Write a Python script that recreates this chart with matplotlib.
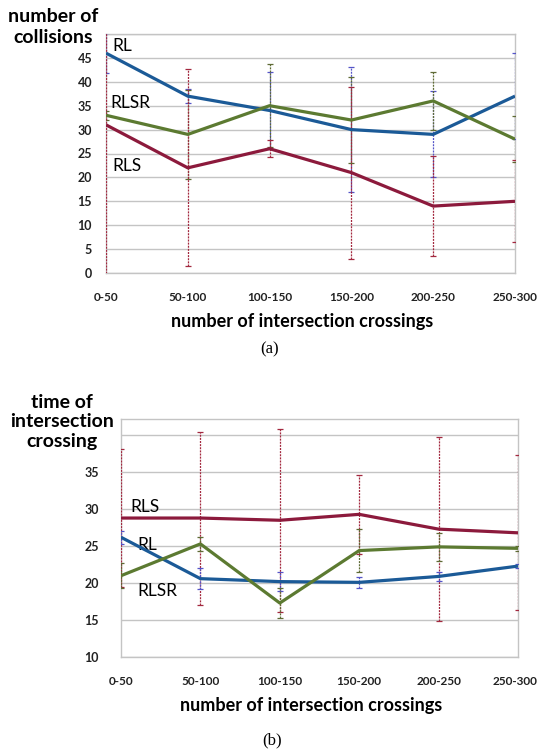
import matplotlib
matplotlib.use("Agg")
import matplotlib.pyplot as plt
import matplotlib.transforms as mtransforms
import numpy as np

# data
cats = ['0-50', '50-100', '100-150', '150-200', '200-250', '250-300']

coll_rl = [46, 37, 34, 30, 29, 37]
coll_rlsr = [33, 29, 35, 32, 36, 28]
coll_rls = [31, 22, 26, 21, 14, 15]
coll_rl_err = [4.2, 1.5, 8, 13, 9, 9]
coll_rlsr_err = [0.9, 9.3, 8.7, 9, 6, 4.8]
coll_rls_err = [35, 20.6, 1.8, 18, 10.5, 8.6]

time_rls = [28.8, 28.8, 28.5, 29.3, 27.3, 26.8]
time_rl = [26.2, 20.6, 20.2, 20.1, 20.9, 22.3]
time_rlsr = [21.0, 25.3, 17.3, 24.4, 24.9, 24.7]
time_rls_err = [9.3, 11.7, 12.4, 5.3, 12.4, 10.5]
time_rl_err = [0.9, 1.4, 1.3, 0.7, 0.6, 0.3]
time_rlsr_err = [1.7, 1.0, 2.0, 2.9, 1.9, 0.3]

blue = '#1b5a97'
red = '#8c1a3c'
green = '#5c7a31'
eblue = '#5555c8'
ered = '#a3283f'
egreen = '#5f6b35'

plt.rcParams['font.family'] = ['Lato', 'DejaVu Sans']

fig = plt.figure(figsize=(5.39, 7.51), dpi=100)


def panel(ax, series, ylim, yticks, ylabels):
    x = np.arange(len(cats))
    for vals, errs, c, ec in series:
        eb = ax.errorbar(x, vals, yerr=errs, fmt='none', ecolor=ec, elinewidth=0.9,
                         capsize=2.5, capthick=0.9, zorder=3)
        for lc in eb.lines[2]:
            lc.set_linestyle((0, (1.6, 0.9)))
        ax.plot(x, vals, color=c, lw=2.3, zorder=4, solid_capstyle='butt')
    ax.set_xlim(0, 5)
    ax.set_ylim(*ylim)
    ax.set_yticks(yticks)
    ax.set_yticklabels(ylabels)
    ax.set_xticks(x)
    ax.set_xticklabels(cats)
    ax.grid(axis='y', color='#c4c4c4', lw=1)
    ax.set_axisbelow(True)
    for s in ax.spines.values():
        s.set_color('#c4c4c4')
        s.set_linewidth(1)
    ax.tick_params(length=0, labelsize=9, colors='#222222')
    ax.tick_params(axis='x', labelsize=8.5)
    for lab in ax.get_xticklabels() + ax.get_yticklabels():
        lab.set_fontweight('bold')


# (a) collisions
ax1 = fig.add_axes([106 / 539, 1 - 273 / 751, 409 / 539, 239 / 751])
panel(ax1, [(coll_rl, coll_rl_err, blue, eblue),
            (coll_rlsr, coll_rlsr_err, green, egreen),
            (coll_rls, coll_rls_err, red, ered)],
      (0, 50), range(0, 51, 5), [str(v) for v in range(0, 46, 5)] + [''])
ax1.tick_params(axis='y', pad=10)
ax1.tick_params(axis='x', pad=14)
ax1.text(0.08, 46.5, 'RL', fontsize=12.5)
ax1.text(0.05, 34.5, 'RLSR', fontsize=12.5)
ax1.text(0.08, 21.3, 'RLS', fontsize=12.5)
fig.text(53 / 539, 1 - 27 / 751, 'number of\ncollisions', ha='center', va='center',
         fontsize=14, fontweight='bold', linespacing=1.3)
fig.text(302 / 539, 1 - 321 / 751, 'number of intersection crossings', ha='center',
         va='center', fontsize=13, fontweight='bold')
fig.text(270 / 539, 1 - 349 / 751, '(a)', ha='center', va='center', fontsize=12,
         family='Liberation Serif')

# (b) time of crossing
ax2 = fig.add_axes([121 / 539, 1 - 657 / 751, 397 / 539, 238 / 751])
panel(ax2, [(time_rls, time_rls_err, red, ered),
            (time_rl, time_rl_err, blue, eblue),
            (time_rlsr, time_rlsr_err, green, egreen)],
      (10, 42.2), range(10, 41, 5), [str(v) for v in range(10, 36, 5)] + [''])
ax2.tick_params(axis='y', pad=16)
ax2.tick_params(axis='x', pad=14)
# last label would run off the right edge; keep it just inside
last = ax2.get_xticklabels()[-1]
last.set_horizontalalignment('right')
last.set_transform(last.get_transform() +
                   mtransforms.ScaledTranslation(19 / 100, 0, fig.dpi_scale_trans))
ax2.text(0.12, 29.6, 'RLS', fontsize=12.5)
ax2.text(0.2, 24.5, 'RL', fontsize=12.5)
ax2.text(0.2, 18.3, 'RLSR', fontsize=12.5)
fig.text(62 / 539, 1 - 422 / 751, 'time of\nintersection\ncrossing', ha='center',
         va='center', fontsize=14, fontweight='bold', linespacing=1.2)
fig.text(311 / 539, 1 - 705 / 751, 'number of intersection crossings', ha='center',
         va='center', fontsize=13, fontweight='bold')
fig.text(272 / 539, 1 - 740 / 751, '(b)', ha='center', va='center', fontsize=12,
         family='Liberation Serif')

fig.savefig('out.png', dpi=100)
